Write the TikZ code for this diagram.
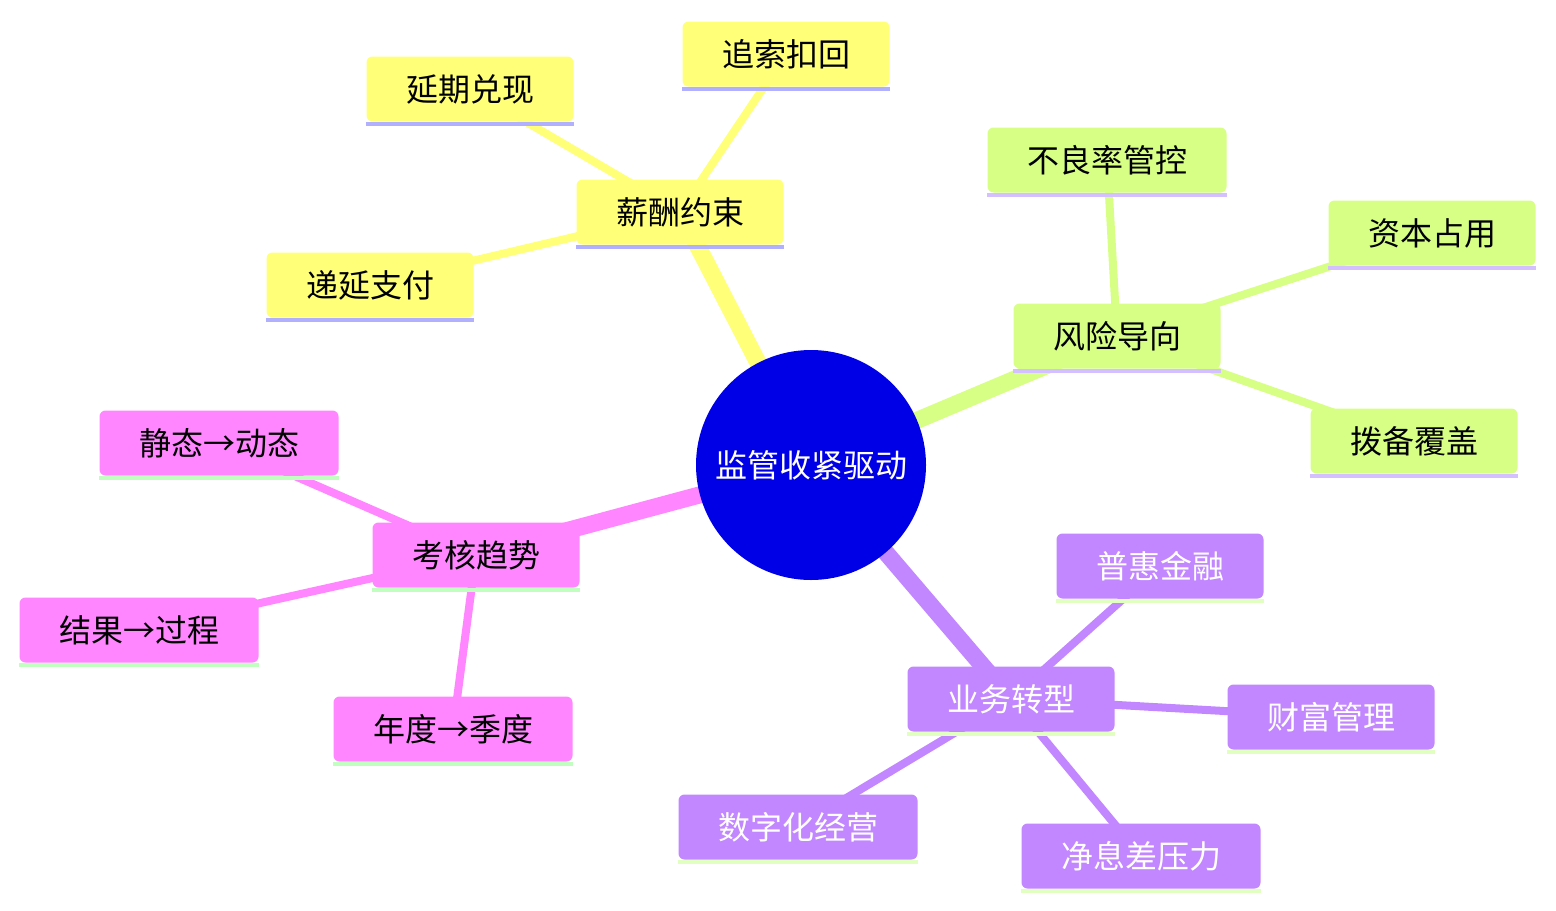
\documentclass[tikz,border=0pt]{standalone}
\usepackage{fontspec}
\setmainfont{Noto Sans CJK SC}
\definecolor{cY}{HTML}{FFFF78}
\definecolor{cYl}{HTML}{B0B0FF}
\definecolor{cG}{HTML}{D7FF86}
\definecolor{cGl}{HTML}{D5C0FF}
\definecolor{cP}{HTML}{FF86FF}
\definecolor{cPl}{HTML}{C0FFC0}
\definecolor{cV}{HTML}{C286FF}
\definecolor{cVl}{HTML}{E0FFC0}
\definecolor{cRoot}{HTML}{0000E6}
\tikzset{
  box/.style={rounded corners=3pt, inner sep=0pt, minimum height=32.5pt, minimum width=103.5pt,
    font=\fontsize{16pt}{19pt}\selectfont},
  wide/.style={minimum width=119.5pt},
  rootedge/.style={line width=8.5pt},
  leafedge/.style={line width=4pt},
  uline/.style={line width=2pt},
}
\begin{document}
\begin{tikzpicture}[x=0.5pt,y=-0.5pt]
\useasboundingbox (0,0) rectangle (1556,910);
% coordinates of node centres
\coordinate (pr) at (811,465);
\coordinate (pa) at (680,212);
\coordinate (pa1) at (470,89);
\coordinate (pa2) at (786,54);
\coordinate (pa3) at (370,285);
\coordinate (pb) at (1117,336);
\coordinate (pb1) at (1107,160);
\coordinate (pb2) at (1432,233);
\coordinate (pb3) at (1414,441);
\coordinate (pc) at (476,555);
\coordinate (pc1) at (219,443);
\coordinate (pc2) at (139,630);
\coordinate (pc3) at (453,729);
\coordinate (pd) at (1011,699);
\coordinate (pd1) at (1160,566);
\coordinate (pd2) at (1331,717);
\coordinate (pd3) at (798,827);
\coordinate (pd4) at (1141,856);
% edges
\draw[rootedge, cY] (pr) -- (pa);
\draw[rootedge, cG] (pr) -- (pb);
\draw[rootedge, cP] (pr) -- (pc);
\draw[rootedge, cV] (pr) -- (pd);
\draw[leafedge, cY] (pa) -- (pa1);
\draw[leafedge, cY] (pa) -- (pa2);
\draw[leafedge, cY] (pa) -- (pa3);
\draw[leafedge, cG] (pb) -- (pb1);
\draw[leafedge, cG] (pb) -- (pb2);
\draw[leafedge, cG] (pb) -- (pb3);
\draw[leafedge, cP] (pc) -- (pc1);
\draw[leafedge, cP] (pc) -- (pc2);
\draw[leafedge, cP] (pc) -- (pc3);
\draw[leafedge, cV] (pd) -- (pd1);
\draw[leafedge, cV] (pd) -- (pd2);
\draw[leafedge, cV] (pd) -- (pd3);
\draw[leafedge, cV] (pd) -- (pd4);
% root
\node[circle, fill=cRoot, minimum size=115pt, inner sep=0pt, text=white,
  font=\fontsize{16pt}{19pt}\selectfont] (root) at (pr) {监管收紧驱动};
% nodes
\node[box, fill=cY] (a) at (pa) {薪酬约束};
\node[box, fill=cY] (a1) at (pa1) {延期兑现};
\node[box, fill=cY] (a2) at (pa2) {追索扣回};
\node[box, fill=cY] (a3) at (pa3) {递延支付};
\node[box, fill=cG] (b) at (pb) {风险导向};
\node[box, wide, fill=cG] (b1) at (pb1) {不良率管控};
\node[box, fill=cG] (b2) at (pb2) {资本占用};
\node[box, fill=cG] (b3) at (pb3) {拨备覆盖};
\node[box, fill=cP] (c) at (pc) {考核趋势};
\node[box, wide, fill=cP] (c1) at (pc1) {静态→动态};
\node[box, wide, fill=cP] (c2) at (pc2) {结果→过程};
\node[box, wide, fill=cP] (c3) at (pc3) {年度→季度};
\node[box, fill=cV, text=white] (d) at (pd) {业务转型};
\node[box, fill=cV, text=white] (d1) at (pd1) {普惠金融};
\node[box, fill=cV, text=white] (d2) at (pd2) {财富管理};
\node[box, wide, fill=cV, text=white] (d3) at (pd3) {数字化经营};
\node[box, wide, fill=cV, text=white] (d4) at (pd4) {净息差压力};
% underlines
\foreach \n in {a,a1,a2,a3}{\draw[uline, cYl] ([yshift=-1pt]\n.south west) -- ([yshift=-1pt]\n.south east);}
\foreach \n in {b,b1,b2,b3}{\draw[uline, cGl] ([yshift=-1pt]\n.south west) -- ([yshift=-1pt]\n.south east);}
\foreach \n in {c,c1,c2,c3}{\draw[uline, cPl] ([yshift=-1pt]\n.south west) -- ([yshift=-1pt]\n.south east);}
\foreach \n in {d,d1,d2,d3,d4}{\draw[uline, cVl] ([yshift=-1pt]\n.south west) -- ([yshift=-1pt]\n.south east);}
\end{tikzpicture}
\end{document}
